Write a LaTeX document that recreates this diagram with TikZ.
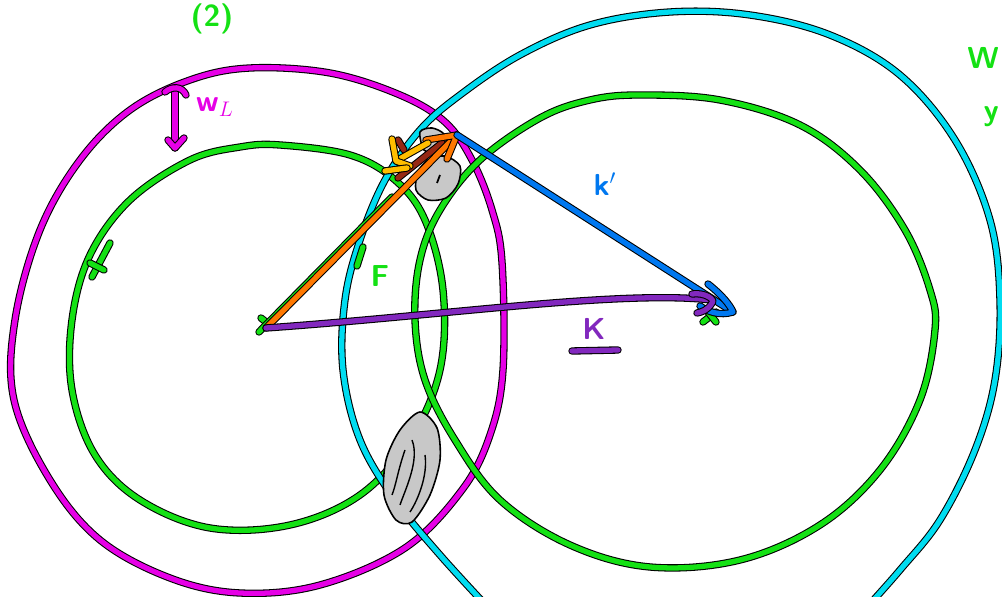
\documentclass[tikz,border=0pt]{standalone}
\usetikzlibrary{arrows.meta}
\definecolor{pgreen}{RGB}{20,225,20}
\definecolor{pmagenta}{RGB}{230,0,230}
\definecolor{pcyan}{RGB}{0,220,240}
\definecolor{pblue}{RGB}{0,120,240}
\definecolor{ppurple}{RGB}{130,40,190}
\definecolor{porange}{RGB}{255,120,0}
\definecolor{pyellow}{RGB}{255,190,0}
\definecolor{pbrown}{RGB}{150,40,20}
\definecolor{pgray}{RGB}{200,200,200}
\begin{document}
\begin{tikzpicture}[x=0.02cm,y=-0.02cm,
  pen/.style={draw=black,line width=0.6pt,double=#1,double distance=3pt,line cap=round,line join=round},
  blob/.style={draw=black,line width=0.9pt,fill=pgray,line join=round},
  hand/.style={font=\sffamily\bfseries\LARGE,text=#1},
]
\useasboundingbox (0,0) rectangle (1002,597);
\clip (0,0) rectangle (1002,597);
\fill[white] (0,0) rectangle (1002,597);
\coordinate (O) at (266,328);
\coordinate (P) at (457,135);
\coordinate (C) at (733,312);
% circles
\draw[pen=pmagenta] plot[smooth cycle,tension=0.6] coordinates {(250,68) (330,73) (400,95) (445,122) (472,160) (492,210) (502,262) (503,370) (490,435) (462,490) (405,548) (320,585) (240,593) (170,578) (100,540) (50,480) (14,400) (15,320) (40,230) (80,160) (130,110) (190,80)};
\draw[pen=pgreen] plot[smooth cycle,tension=0.6] coordinates {(280,145) (350,155) (395,180) (425,220) (443,290) (440,370) (410,440) (360,495) (290,525) (210,528) (140,500) (95,455) (72,390) (72,320) (90,255) (130,200) (190,160) (240,147)};
\draw[pen=pgreen] plot[smooth cycle,tension=0.6] coordinates {(640,95) (720,100) (800,125) (860,170) (905,230) (930,290) (935,330) (920,400) (880,470) (820,525) (740,560) (650,567) (570,545) (500,500) (455,440) (425,380) (415,320) (420,260) (440,210) (480,160) (540,118) (590,100)};
\draw[pen=pcyan] plot[smooth,tension=0.6] coordinates {(495,615) (440,555) (395,500) (360,440) (343,370) (345,300) (360,240) (385,180) (420,130) (460,95) (520,55) (590,25) (670,12) (750,15) (830,35) (900,75) (955,140) (990,220) (1000,300) (995,380) (975,450) (940,520) (900,570) (860,615)};
% scribbled patches
\draw[blob] plot[smooth cycle] coordinates {(420,132) (432,128) (444,134) (446,146) (436,152) (424,150)};
\draw[blob] plot[smooth cycle] coordinates {(428,160) (445,156) (460,166) (458,184) (446,198) (428,200) (416,190) (418,172)};
\draw[black,line width=1pt] (440,175) -- (437,183);
\draw[blob] plot[smooth cycle] coordinates {(420,412) (437,428) (440,460) (430,495) (412,522) (396,520) (384,495) (386,460) (400,430)};
\draw[black,line width=0.8pt] (412,440) .. controls (420,460) and (405,490) .. (400,505);
\draw[black,line width=0.8pt] (425,455) .. controls (428,475) and (418,500) .. (410,512);
\draw[black,line width=0.8pt] (405,450) .. controls (398,470) and (396,485) .. (392,495);
% ticks
\draw[pen=pgreen] (110,243) -- (92,277);
\draw[pen=pgreen] (90,263) -- (104,270);
\draw[pen=pgreen] (363,247) -- (357,266);
\draw[pen=pgreen] (261,318) -- (271,326);
\draw[pen=pgreen] (703,322) -- (716,312);
\draw[pen=pgreen] (708,312) -- (716,322);
% vectors
\draw[pen=pgreen] (259,332) -- (392,197);
\draw[pen=pbrown] (398,178) -- (442,143);
\draw[pen=pbrown] (398,140) -- (404,150);
\draw[pen=porange] (O) -- (P);
\draw[pen=porange] (426,140) -- (P) -- (447,159);
\draw[pen=pyellow] (428,143) -- (396,161);
\draw[pen=pyellow] (392,139) -- (396,161) -- (410,166);
\draw[pen=pyellow] (385,171) -- (407,168);
\draw[pen=pblue] (P) -- (C);
\draw[pen=pblue] (708,284) .. controls (722,295) and (730,305) .. (C) .. controls (720,316) and (708,312) .. (700,306);
\draw[pen=ppurple] (O) .. controls (450,315) and (620,290) .. (712,300);
\draw[pen=ppurple] (692,294) .. controls (705,292) and (716,300) .. (712,303) .. controls (708,310) and (702,312) .. (697,313);
\draw[pen=pmagenta] (175,90) -- (175,148);
\draw[pen=pmagenta] (165,92) .. controls (172,86) and (182,86) .. (186,95);
\draw[pen=pmagenta] (168,140) -- (175,148) -- (184,138);
\draw[pen=ppurple] (572,351) -- (618,350);
% labels
\node[hand=pgreen,anchor=north,inner sep=1pt] (two) at (212,2) {(2)};
\node[hand=pmagenta] (wl) at (215,107) {w$_L$};
\node[hand=pgreen] (force) at (380,276) {F};
\node[hand=pblue] (kprime) at (605,184) {k$'$};
\node[hand=ppurple] (kvec) at (594,329) {K};
\node[hand=pgreen,anchor=east,inner sep=1pt] (wtop) at (1001,58) {W};
\node[hand=pgreen,anchor=east,inner sep=1pt] (ytop) at (1001,117) {y};
\end{tikzpicture}
\end{document}
